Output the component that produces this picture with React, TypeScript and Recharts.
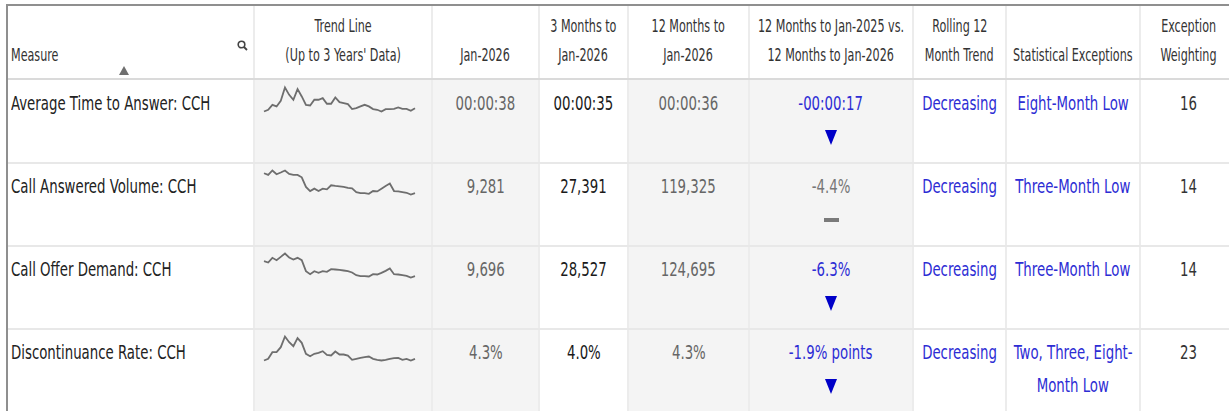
import { LineChart, Line, XAxis, YAxis } from "recharts";

// 37 monthly points, Jan-2023 .. Jan-2026
const months = [
  "Jan-2023", "Feb-2023", "Mar-2023", "Apr-2023", "May-2023", "Jun-2023", "Jul-2023", "Aug-2023", "Sep-2023", "Oct-2023", "Nov-2023", "Dec-2023",
  "Jan-2024", "Feb-2024", "Mar-2024", "Apr-2024", "May-2024", "Jun-2024", "Jul-2024", "Aug-2024", "Sep-2024", "Oct-2024", "Nov-2024", "Dec-2024",
  "Jan-2025", "Feb-2025", "Mar-2025", "Apr-2025", "May-2025", "Jun-2025", "Jul-2025", "Aug-2025", "Sep-2025", "Oct-2025", "Nov-2025", "Dec-2025",
  "Jan-2026",
];

// seconds
const ataTrend = [
  35.5, 36.8, 40.5, 39.3, 43.5, 53.5, 48.0, 44.3, 52.3, 46.8, 40.5, 40.0,
  44.3, 44.3, 45.5, 41.3, 41.3, 46.0, 42.5, 41.8, 41.0, 37.3, 38.0, 39.3,
  40.5, 39.3, 37.3, 36.8, 35.5, 37.3, 37.3, 37.5, 38.5, 37.5, 37.5, 36.0,
  38.0,
];

const answeredTrend = [
  12758, 12463, 13241, 12580, 12884, 13237, 12641, 12459, 12462, 12043, 10358, 9644,
  10062, 9638, 10059, 9943, 10660, 10544, 10479, 10362, 10180, 10118, 9463, 9284,
  9279, 9160, 9643, 9583, 10058, 10539, 10962, 9640, 9582, 9459, 9342, 9038,
  9281,
];

const offeredTrend = [
  12486, 12238, 13106, 12672, 13292, 13912, 13168, 12796, 13106, 12672, 10626, 10068,
  10626, 10316, 10626, 10502, 10998, 10936, 10874, 10750, 10626, 10378, 9882, 9696,
  9696, 9634, 10068, 10006, 10316, 10688, 11122, 10068, 10006, 9882, 9758, 9448,
  9696,
];

// percent
const discTrend = [
  4.05, 4.3, 5.3, 5.3, 6.05, 7.65, 6.8, 6.2, 7.4, 6.7, 5.05, 4.7,
  5.05, 5.2, 5.45, 4.9, 4.8, 5.4, 4.95, 4.95, 4.8, 4.15, 4.3, 4.45,
  4.55, 4.65, 4.3, 4.15, 4.05, 4.15, 4.3, 4.4, 4.45, 4.15, 4.3, 4.05,
  4.3,
];

const measures = [
  "Average Time to Answer: CCH",
  "Call Answered Volume: CCH",
  "Call Offer Demand: CCH",
  "Discontinuance Rate: CCH",
];
const trends = [ataTrend, answeredTrend, offeredTrend, discTrend];
const janValues = ["00:00:38", "9,281", "9,696", "4.3%"];
const threeMonthValues = ["00:00:35", "27,391", "28,527", "4.0%"];
const twelveMonthValues = ["00:00:36", "119,325", "124,695", "4.3%"];
const changeValues = ["-00:00:17", "-4.4%", "-6.3%", "-1.9% points"];
const changeMarks = ["down", "flat", "down", "down"];
const rollingTrend = ["Decreasing", "Decreasing", "Decreasing", "Decreasing"];
const exceptions = [["Eight-Month Low"], ["Three-Month Low"], ["Three-Month Low"], ["Two, Three, Eight-", "Month Low"]];
const weightings = ["16", "14", "14", "23"];

const headers = [
  ["Measure"],
  ["Trend Line", "(Up to 3 Years' Data)"],
  ["Jan-2026"],
  ["3 Months to", "Jan-2026"],
  ["12 Months to", "Jan-2026"],
  ["12 Months to Jan-2025 vs.", "12 Months to Jan-2026"],
  ["Rolling 12", "Month Trend"],
  ["Statistical Exceptions"],
  ["Exception", "Weighting"],
];

const FONT = "'DejaVu Sans Condensed', 'Liberation Sans', sans-serif";
const BODY_SQUEEZE = 0.74;
const HEAD_SQUEEZE = 0.73;
const BLUE = "#2d2dd4";
const colX = [8, 254, 432, 539, 628, 749, 913, 1006, 1140, 1237];
const greyCols = [1, 2, 4, 5];
const HEADER_TOP = 6;
const BODY_TOP = 80;
const ROW_H = 83;

// one line of squeezed text; flex centering keeps wide lines centred on the cell
function Txt({ children, left = false, k = BODY_SQUEEZE, color }: { children: any; left?: boolean; k?: number; color?: string }) {
  return (
    <div style={{ display: "flex", justifyContent: left ? "flex-start" : "center", color }}>
      <span
        style={{
          display: "inline-block",
          whiteSpace: "nowrap",
          flexShrink: 0,
          transform: `scaleX(${k})`,
          transformOrigin: left ? "left center" : "center",
        }}
      >
        {children}
      </span>
    </div>
  );
}

function DownMark() {
  return (
    <svg width="12" height="15" style={{ verticalAlign: "middle" }}>
      <polygon points="0,0 12,0 6,15" fill="#0000c8" />
    </svg>
  );
}

function FlatMark() {
  return <div style={{ width: 15, height: 4, background: "#7a7a7a", margin: "15px auto 0" }} />;
}

function Sparkline({ values }: { values: number[] }) {
  const data = months.map((m, i) => ({ month: m, value: values[i] }));
  return (
    <LineChart width={178} height={83} data={data} margin={{ top: 7.5, right: 17, bottom: 51.5, left: 10 }}>
      <XAxis dataKey="month" hide />
      <YAxis hide domain={["dataMin", "dataMax"]} />
      <Line type="linear" dataKey="value" stroke="#6e6e6e" strokeWidth={1.8} dot={false} isAnimationActive={false} />
    </LineChart>
  );
}

export default function App() {
  const cell = (c: number, r: number, content: any, align: "left" | "center" = "center") => (
    <div
      key={`${c}-${r}`}
      style={{
        position: "absolute",
        left: colX[c],
        top: BODY_TOP + r * ROW_H,
        width: colX[c + 1] - colX[c],
        height: ROW_H,
        paddingTop: c === 1 ? 0 : 7,
        paddingLeft: align === "left" ? 3 : 0,
        boxSizing: "border-box",
        textAlign: align,
        lineHeight: "33px",
        fontSize: 20,
      }}
    >
      {content}
    </div>
  );

  const body: any[] = [];
  measures.forEach((m, r) => {
    body.push(cell(0, r, <Txt left color="#222">{m}</Txt>, "left"));
    body.push(cell(1, r, <Sparkline values={trends[r]} />));
    body.push(cell(2, r, <Txt color="#666">{janValues[r]}</Txt>));
    body.push(cell(3, r, <Txt color="#1a1a1a">{threeMonthValues[r]}</Txt>));
    body.push(cell(4, r, <Txt color="#666">{twelveMonthValues[r]}</Txt>));
    body.push(
      cell(
        5,
        r,
        <>
          <Txt color={changeMarks[r] === "flat" ? "#777" : BLUE}>{changeValues[r]}</Txt>
          <div style={{ height: 33 }}>{changeMarks[r] === "down" ? <DownMark /> : <FlatMark />}</div>
        </>
      )
    );
    body.push(cell(6, r, <Txt color={BLUE}>{rollingTrend[r]}</Txt>));
    body.push(
      cell(
        7,
        r,
        <>
          {exceptions[r].map((t) => (
            <Txt key={t} color={BLUE}>{t}</Txt>
          ))}
        </>
      )
    );
    body.push(cell(8, r, <Txt color="#333">{weightings[r]}</Txt>));
  });

  return (
    <div
      style={{
        position: "absolute",
        left: 0,
        top: 0,
        width: 1229,
        height: 411,
        overflow: "hidden",
        background: "#fff",
        fontFamily: FONT,
      }}
    >
      {/* grey column backgrounds */}
      {greyCols.map((c) => (
        <div key={`bg${c}`} style={{ position: "absolute", left: colX[c], top: BODY_TOP, width: colX[c + 1] - colX[c], height: 411 - BODY_TOP, background: "#f4f4f4" }} />
      ))}
      {/* vertical separators */}
      {colX.slice(1, -1).map((x) => (
        <div key={`v${x}`} style={{ position: "absolute", left: x - 1, top: HEADER_TOP, width: 2, height: 411, background: "#ececec" }} />
      ))}
      {/* horizontal separators */}
      <div style={{ position: "absolute", left: 8, top: BODY_TOP - 2, width: 1229, height: 2, background: "#dadada" }} />
      {[1, 2, 3].map((r) => (
        <div key={`h${r}`} style={{ position: "absolute", left: 8, top: BODY_TOP + r * ROW_H - 1, width: 1229, height: 2, background: "#e8e8e8" }} />
      ))}
      {/* outer border */}
      <div style={{ position: "absolute", left: 6, top: 4, width: 1229, height: 2, background: "#8f8f8f" }} />
      <div style={{ position: "absolute", left: 6, top: 4, width: 2, height: 411, background: "#8f8f8f" }} />

      {/* header */}
      {headers.map((lines, c) => (
        <div
          key={`hd${c}`}
          style={{
            position: "absolute",
            left: colX[c],
            top: HEADER_TOP,
            width: colX[c + 1] - colX[c],
            height: BODY_TOP - 2 - HEADER_TOP,
            display: "flex",
            flexDirection: "column",
            justifyContent: "flex-end",
            paddingBottom: 8,
            paddingLeft: c === 0 ? 3 : 0,
            boxSizing: "border-box",
            fontSize: 17,
            lineHeight: "29px",
            color: "#333",
          }}
        >
          {lines.map((l) => (
            <Txt key={l} k={HEAD_SQUEEZE} left={c === 0}>{l}</Txt>
          ))}
        </div>
      ))}
      {/* sort arrow and search icon in Measure header */}
      <svg style={{ position: "absolute", left: 119, top: 66 }} width="10" height="9">
        <polygon points="5,0 10,9 0,9" fill="#6f6f6f" />
      </svg>
      <svg style={{ position: "absolute", left: 237, top: 40 }} width="11" height="11">
        <circle cx="4.5" cy="4.5" r="3.3" fill="none" stroke="#444" strokeWidth="1.6" />
        <line x1="7" y1="7" x2="10" y2="10" stroke="#444" strokeWidth="1.8" />
      </svg>

      {body}
    </div>
  );
}
